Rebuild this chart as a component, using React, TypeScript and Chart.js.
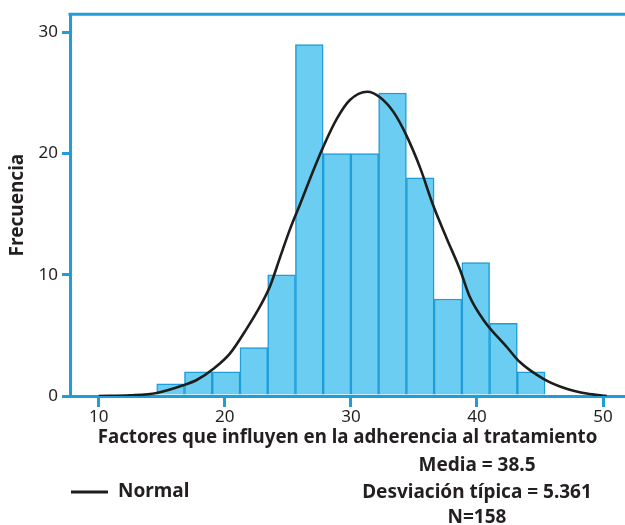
import React, { useEffect, useRef } from "react";
import { Chart, registerables } from "chart.js";

Chart.register(...registerables);

// ---- data ----
const binCenters = [15.7, 17.9, 20.1, 22.3, 24.5, 26.7, 28.9, 31.1, 33.3, 35.5, 37.7, 39.9, 42.1, 44.3];
const frequencies = [1, 2, 2, 4, 10, 29, 20, 20, 25, 18, 8, 11, 6, 2];

const normalX = [10, 12.5, 14.6, 16.7, 17.8, 19.1, 20.4, 21.7, 22.9, 23.6, 24.4, 25.2, 26.0, 26.9, 27.8, 28.9, 29.9, 31.3, 32.3, 33.4, 34.4, 35.5, 36.5, 37.6, 38.7, 39.4, 40.5, 42.4, 43.4, 45.3, 47.1, 48.7, 50.3];
const normalY = [0, 0.06, 0.25, 0.88, 1.34, 2.25, 3.5, 5.5, 7.6, 9.1, 11.5, 13.85, 15.9, 18.3, 20.55, 22.9, 24.4, 25.1, 24.65, 23.4, 21.5, 18.8, 15.8, 13.0, 10.3, 8.25, 6.3, 4.0, 2.8, 1.4, 0.6, 0.2, 0];

const xTickValues = [10, 20, 30, 40, 50];
const yTickValues = [0, 10, 20, 30];

const xTitle = "Factores que influyen en la adherencia al tratamiento";
const yTitle = "Frecuencia";
const legendLabel = "Normal";
const statsLines = ["Media = 38.5", "Desviación típica = 5.361", "N=158"];

// ---- styles ----
const BLUE = "#1e9dd9";
const FILL = "#6bcdf1";
const INK = "#231f20";
const CURVE = "#1d1d1b";
const FONT = "'Noto Sans', 'Open Sans', sans-serif";

const overlayPlugin = {
  id: "overlay",
  beforeDatasetsDraw(chart: any) {
    const { ctx, chartArea } = chart;
    ctx.save();
    ctx.strokeStyle = BLUE;
    ctx.lineWidth = 3;
    ctx.beginPath();
    ctx.moveTo(chartArea.left - 1.5, chartArea.top);
    ctx.lineTo(chartArea.right, chartArea.top);
    ctx.stroke();
    ctx.restore();
  },
  afterDraw(chart: any) {
    const { ctx } = chart;
    ctx.save();
    // legend sample
    ctx.strokeStyle = CURVE;
    ctx.lineWidth = 3;
    ctx.beginPath();
    ctx.moveTo(71, 492);
    ctx.lineTo(108, 492);
    ctx.stroke();
    ctx.fillStyle = INK;
    ctx.font = `bold 19px ${FONT}`;
    ctx.textBaseline = "middle";
    ctx.textAlign = "left";
    ctx.fillText(legendLabel, 118, 492);
    // stats
    ctx.textAlign = "center";
    const ys = [466, 493, 518];
    statsLines.forEach((t, i) => ctx.fillText(t, 477, ys[i]));
    ctx.restore();
  },
};

export default function App() {
  const ref = useRef<HTMLCanvasElement | null>(null);

  useEffect(() => {
    if (!ref.current) return;
    const chart = new Chart(ref.current, {
      type: "bar",
      data: {
        datasets: [
          {
            type: "line",
            label: legendLabel,
            data: normalX.map((x, i) => ({ x, y: normalY[i] })),
            borderColor: CURVE,
            borderWidth: 2.6,
            pointRadius: 0,
            cubicInterpolationMode: "monotone",
            fill: false,
            order: 0,
          } as any,
          {
            type: "bar",
            label: "Frecuencia",
            data: binCenters.map((x, i) => ({ x, y: frequencies[i] })),
            backgroundColor: FILL,
            borderColor: BLUE,
            borderWidth: 1.5,
            borderSkipped: "start",
            barPercentage: 1,
            categoryPercentage: 1,
            grouped: false,
            order: 1,
          } as any,
        ],
      },
      options: {
        animation: false,
        responsive: false,
        devicePixelRatio: 1,
        layout: { padding: { top: 12, right: 0, bottom: 0, left: 0 } },
        plugins: { legend: { display: false }, tooltip: { enabled: false } },
        scales: {
          x: {
            type: "linear",
            min: 7.72,
            max: 51.74,
            offset: false,
            z: 1,
            afterBuildTicks: (s: any) => {
              s.ticks = xTickValues.map((v) => ({ value: v }));
            },
            afterFit: (s: any) => {
              s.height = 129;
            },
            grid: {
              display: true,
              drawOnChartArea: false,
              drawTicks: true,
              tickLength: 11,
              color: BLUE,
              lineWidth: 3,
              offset: false,
            },
            border: { display: true, color: BLUE, width: 3 },
            ticks: {
              color: INK,
              font: { family: FONT, size: 17 },
              padding: 0,
              maxRotation: 0,
              autoSkip: false,
            },
            title: {
              display: true,
              text: xTitle,
              color: INK,
              font: { family: FONT, size: 18.7, weight: "bold" },
              padding: { top: 0, bottom: 76 },
            },
          } as any,
          y: {
            type: "linear",
            min: 0,
            max: 31.5,
            afterBuildTicks: (s: any) => {
              s.ticks = yTickValues.map((v) => ({ value: v }));
            },
            afterFit: (s: any) => {
              s.width = 70;
            },
            grid: {
              display: true,
              drawOnChartArea: false,
              drawTicks: true,
              tickLength: 8,
              color: BLUE,
              lineWidth: 3,
            },
            border: { display: true, color: BLUE, width: 3 },
            ticks: {
              color: INK,
              font: { family: FONT, size: 17 },
              padding: 4,
            },
            title: {
              display: true,
              text: yTitle,
              color: INK,
              font: { family: FONT, size: 19, weight: "bold" },
              padding: { top: 6, bottom: 0 },
            },
          } as any,
        },
      },
      plugins: [overlayPlugin],
    });
    return () => chart.destroy();
  }, []);

  return (
    <div style={{ position: "absolute", left: 0, top: 0, width: 625, height: 525, background: "#fff" }}>
      <canvas ref={ref} width={625} height={525} style={{ display: "block" }} />
    </div>
  );
}
